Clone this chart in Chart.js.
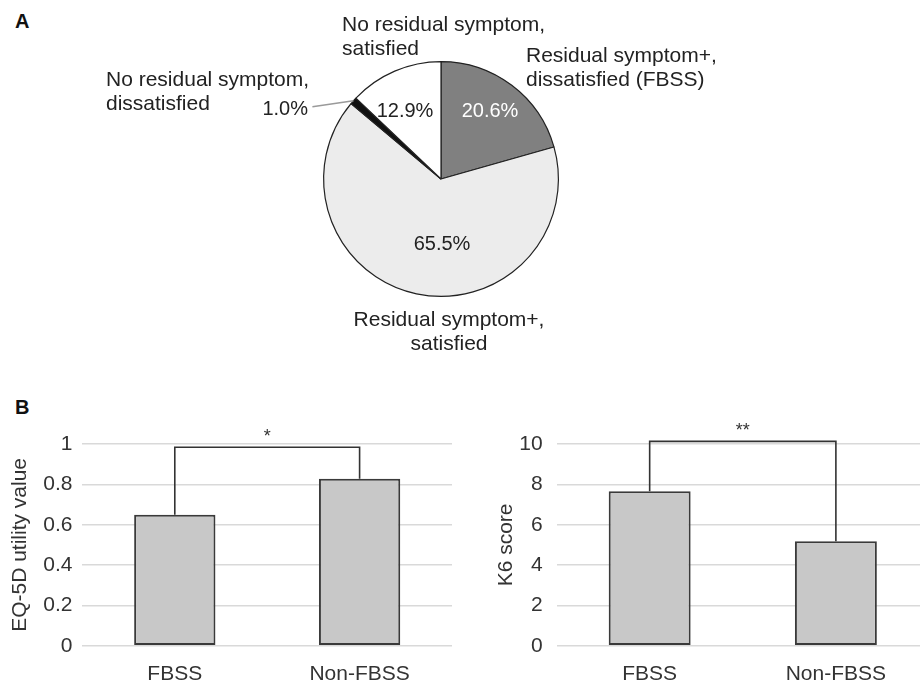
<!DOCTYPE html>
<html>
<head>
<meta charset="utf-8">
<script src="https://cdn.jsdelivr.net/npm/chart.js@4.4.0/dist/chart.umd.min.js"></script>
<style>
  body { margin: 0; width: 920px; height: 683px; overflow: hidden; position: relative; background: #fff; }
  canvas { position: absolute; }
  .tag { position: absolute; font: bold 20px "Liberation Sans", Arial, sans-serif; color: #111; }
</style>
</head>
<body>
<div class="tag" style="left:15px; top:10px;">A</div>
<div class="tag" style="left:15px; top:396px;">B</div>
<canvas id="pie" width="920" height="360" style="left:0; top:0;"></canvas>
<canvas id="eq5d" width="460" height="303" style="left:0; top:400px;"></canvas>
<canvas id="k6" width="480" height="303" style="left:460px; top:400px;"></canvas>
<script>
// Dữ liệu biểu đồ tròn (A)
const pieNames = [
    ['Residual symptom+,', 'dissatisfied (FBSS)'],
    ['Residual symptom+,', 'satisfied'],
    ['No residual symptom,', 'dissatisfied'],
    ['No residual symptom,', 'satisfied']
];
const pieValues = [20.6, 65.5, 1.0, 12.9];
const pieColors = ['#808080', '#ececec', '#111111', '#ffffff'];

// Dữ liệu biểu đồ cột (B)
const groups = ['FBSS', 'Non-FBSS'];
const eq5dValues = [0.65, 0.828];
const k6Values = [7.66, 5.18];
const eq5dBracket = 0.984;
const k6Bracket = 10.13;

const FONT = '"Liberation Sans", Arial, sans-serif';
Chart.defaults.font.family = FONT;
Chart.defaults.color = '#333';

// vị trí chữ quanh tâm hình tròn
const pctPos = [
    { dx: 49, dy: -62, align: 'center', color: '#fff' },
    { dx: 1, dy: 71, align: 'center', color: '#222' },
    { dx: -133, dy: -64, align: 'right', color: '#222' },
    { dx: -36, dy: -62, align: 'center', color: '#222' }
];
const namePos = [
    { dx: 85, dy: -117, align: 'left' },
    { dx: 8, dy: 147, align: 'center' },
    { dx: -335, dy: -93, align: 'left' },
    { dx: -99, dy: -148, align: 'left' }
];

const pieLabelPlugin = {
    id: 'pieLabels',
    afterDatasetsDraw(chart) {
        const { ctx } = chart;
        const arcs = chart.getDatasetMeta(0).data;
        ctx.save();
        ctx.textBaseline = 'alphabetic';
        arcs.forEach((arc, i) => {
            const p = pctPos[i];
            ctx.font = '20px ' + FONT;
            ctx.fillStyle = p.color;
            ctx.textAlign = p.align;
            ctx.fillText(pieValues[i].toFixed(1) + '%', arc.x + p.dx, arc.y + p.dy);
            const n = namePos[i];
            ctx.font = '21px ' + FONT;
            ctx.fillStyle = '#222';
            ctx.textAlign = n.align;
            pieNames[i].forEach((line, k) => ctx.fillText(line, arc.x + n.dx, arc.y + n.dy + k * 24));
        });
        // đường dẫn cho lát nhỏ 1.0%
        const a = arcs[2];
        const mid = (a.startAngle + a.endAngle) / 2;
        const ex = a.x + Math.cos(mid) * a.outerRadius;
        const ey = a.y + Math.sin(mid) * a.outerRadius;
        ctx.strokeStyle = '#9a9a9a';
        ctx.lineWidth = 1.5;
        ctx.beginPath();
        ctx.moveTo(ex, ey);
        ctx.lineTo(ex - 41, ey + 6);
        ctx.stroke();
        ctx.restore();
    }
};

new Chart(document.getElementById('pie').getContext('2d'), {
    type: 'pie',
    data: {
        labels: pieNames.map(n => n.join(' ')),
        datasets: [{
            data: pieValues,
            backgroundColor: pieColors,
            borderColor: '#222',
            borderWidth: 1.2
        }]
    },
    options: {
        responsive: false,
        animation: false,
        layout: { padding: { top: 61, bottom: 63, left: 0, right: 38 } },
        plugins: { legend: { display: false }, tooltip: { enabled: false } }
    },
    plugins: [pieLabelPlugin]
});

// ngoặc nối hai cột + dấu sao
const bracket = (topVal, mark) => ({
    id: 'bracket',
    afterDatasetsDraw(chart) {
        const { ctx, scales: { x, y } } = chart;
        const vals = chart.data.datasets[0].data;
        const x0 = x.getPixelForValue(0);
        const x1 = x.getPixelForValue(1);
        const yt = y.getPixelForValue(topVal);
        ctx.save();
        ctx.strokeStyle = '#333';
        ctx.lineWidth = 1.6;
        ctx.beginPath();
        ctx.moveTo(x0, y.getPixelForValue(vals[0]));
        ctx.lineTo(x0, yt);
        ctx.lineTo(x1, yt);
        ctx.lineTo(x1, y.getPixelForValue(vals[1]));
        ctx.stroke();
        ctx.fillStyle = '#333';
        ctx.font = '18px ' + FONT;
        ctx.textAlign = 'center';
        ctx.fillText(mark, (x0 + x1) / 2, yt - 5);
        ctx.restore();
    }
});

const drawBar = (id, values, yMax, step, title, pad, titlePad, tickPad, topVal, mark) => {
    new Chart(document.getElementById(id).getContext('2d'), {
        type: 'bar',
        data: {
            labels: groups,
            datasets: [{
                data: values,
                backgroundColor: '#c8c8c8',
                borderColor: '#3a3a3a',
                borderWidth: 2,
                borderSkipped: false,
                barPercentage: 0.44,
                categoryPercentage: 1
            }]
        },
        options: {
            responsive: false,
            animation: false,
            layout: { padding: pad },
            plugins: { legend: { display: false }, tooltip: { enabled: false } },
            scales: {
                x: {
                    grid: { display: false, drawTicks: false },
                    border: { display: false },
                    ticks: { font: { size: 21 }, color: '#333', padding: 16 }
                },
                y: {
                    min: 0,
                    max: yMax,
                    grid: { color: '#d9d9d9', lineWidth: 1.5, drawTicks: false },
                    border: { display: false },
                    ticks: {
                        stepSize: step,
                        font: { size: 21 },
                        color: '#333',
                        padding: tickPad,
                        callback: v => String(Number(v.toFixed(1)))
                    },
                    title: { display: true, text: title, font: { size: 21 }, color: '#333', padding: titlePad }
                }
            }
        },
        plugins: [bracket(topVal, mark)]
    });
};

drawBar('eq5d', eq5dValues, 1, 0.2, 'EQ-5D utility value',
    { top: 44, left: 8, right: 8, bottom: 0 }, { top: 0, bottom: 0 }, 10, eq5dBracket, '*');
drawBar('k6', k6Values, 10, 2, 'K6 score',
    { top: 44, left: 34, right: 11, bottom: 0 }, { top: 0, bottom: -14 }, 14, k6Bracket, '**');
</script>
</body>
</html>
